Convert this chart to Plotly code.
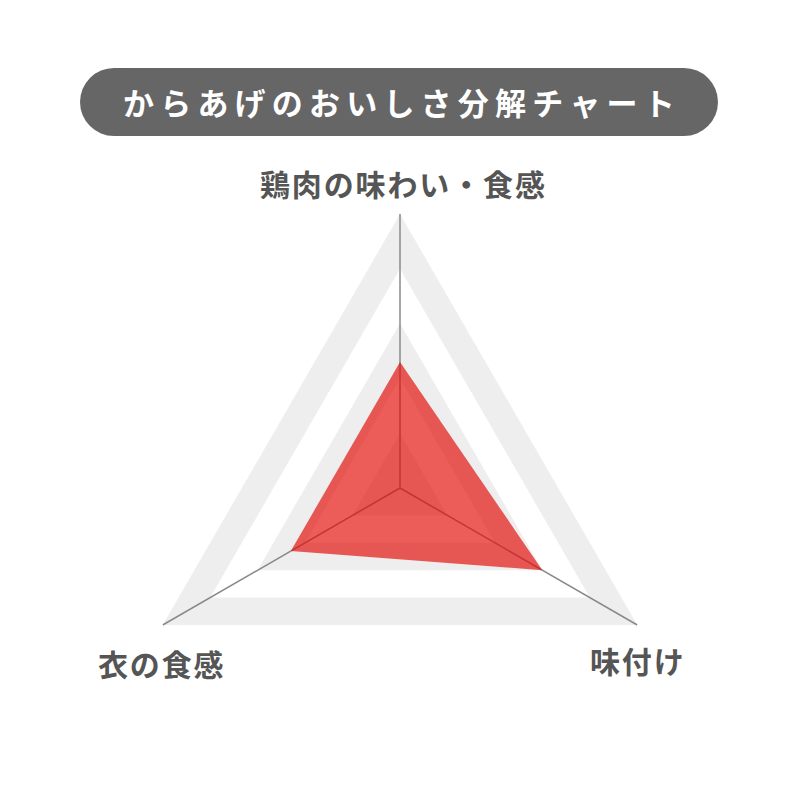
import plotly.graph_objects as go

# ---- data ----
categories = ["鶏肉の味わい・食感", "味付け", "衣の食感"]
values = [2.3, 3.0, 2.3]
theta_deg = [0, 120, 240]
band_levels = [5, 4, 3, 2, 1]
band_colors = ["#eeeeee", "#ffffff", "#eeeeee", "#ffffff", "#eeeeee"]
r_max = 5
title_text = "からあげのおいしさ分解チャート"

W = H = 800
OFF = 8  # page body margin
def px(x):
    return (x - OFF) / W
def py(y):
    return 1 - (y - OFF) / H

def spaced(s, sp="\u2009"):
    # visual letter spacing
    return sp.join(s)

fig = go.Figure()

# background bands (triangles)
for lvl, col in zip(band_levels, band_colors):
    fig.add_trace(go.Scatterpolar(
        r=[lvl] * (len(theta_deg) + 1),
        theta=theta_deg + [theta_deg[0]],
        mode="lines", fill="toself", fillcolor=col,
        line=dict(width=0, color=col), hoverinfo="skip", showlegend=False))

# spokes
for t in theta_deg:
    fig.add_trace(go.Scatterpolar(
        r=[0, r_max], theta=[t, t], mode="lines",
        line=dict(color="#8a8a8a", width=1.5), hoverinfo="skip", showlegend=False))

# data polygon
fig.add_trace(go.Scatterpolar(
    r=values + [values[0]], theta=theta_deg + [theta_deg[0]],
    mode="lines", fill="toself", fillcolor="rgba(226,4,0,0.65)",
    line=dict(width=0), showlegend=False, text=categories + [categories[0]]))

cx, cy, R = 400, 488, 274
fig.update_layout(
    width=W, height=H,
    margin=dict(l=0, r=0, t=0, b=0),
    paper_bgcolor="white", plot_bgcolor="white",
    showlegend=False,
    polar=dict(
        domain=dict(x=[px(cx - R), px(cx + R)], y=[py(cy + R), py(cy - R)]),
        gridshape="linear",
        bgcolor="rgba(0,0,0,0)",
        radialaxis=dict(visible=False, range=[0, r_max]),
        angularaxis=dict(rotation=90, direction="clockwise", showgrid=False,
                         showline=False, showticklabels=False, ticks="",
                         tickmode="array", tickvals=theta_deg),
    ),
)

# title pill
pill_col = "#666666"
x0, x1, y0, y1 = 80, 718, 68, 136
rr = (y1 - y0) / 2
fig.add_shape(type="rect", xref="paper", yref="paper",
              x0=px(x0 + rr), x1=px(x1 - rr), y0=py(y1), y1=py(y0),
              fillcolor=pill_col, line=dict(width=0), layer="below")
for cxp in (x0, x1 - 2 * rr):
    fig.add_shape(type="circle", xref="paper", yref="paper",
                  x0=px(cxp), x1=px(cxp + 2 * rr), y0=py(y1), y1=py(y0),
                  fillcolor=pill_col, line=dict(width=0), layer="below")
fig.add_annotation(x=px(399), y=py(102), xref="paper", yref="paper",
                   xanchor="center", yanchor="middle",
                   text=spaced(title_text), showarrow=False,
                   font=dict(family="Noto Sans CJK JP", size=31, color="white", weight="bold"))

label_pos = [(402, 183), (637, 660), (161, 663)]
for lab, (lx, ly) in zip(categories, label_pos):
    fig.add_annotation(x=px(lx), y=py(ly), xref="paper", yref="paper",
                       xanchor="center", yanchor="middle",
                       text=spaced(lab, "\u200a"), showarrow=False,
                       font=dict(family="Noto Sans CJK JP", size=30, color="#555555", weight="bold"))

fig.write_html("out.html")
